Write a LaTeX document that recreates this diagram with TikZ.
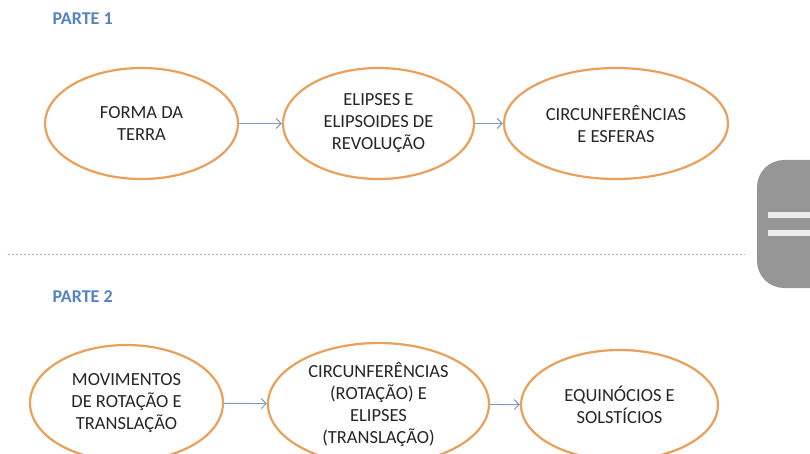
\documentclass[tikz,border=0pt]{standalone}
\usepackage{fontspec}
\setmainfont{Carlito}
\usepackage{xcolor}
\usetikzlibrary{arrows.meta,shapes.geometric}

\definecolor{parteblue}{RGB}{84,131,190}
\definecolor{ovalorange}{RGB}{232,160,90}
\definecolor{arrowblue}{RGB}{125,155,190}
\definecolor{pillgray}{RGB}{150,150,150}

\tikzset{
  oval/.style={ellipse, draw=ovalorange, line width=2.2pt, fill=white,
    minimum width=#1, minimum height=111pt, inner sep=0pt, align=center,
    font=\fontsize{18.5}{22}\selectfont, text=black!85},
  oval/.default=192pt,
  flow/.style={-{Straight Barb[length=5pt,width=10pt]}, arrowblue, line width=1pt},
  parte/.style={anchor=west, text=parteblue, font=\fontsize{18}{20}\selectfont\bfseries}
}

\begin{document}
\begin{tikzpicture}[x=1pt,y=-1pt]
            \useasboundingbox (0,0) rectangle (810,454);

            % parte 1
            \node[parte] (p1) at (49, 19) {PARTE 1};
            \node[oval=193pt] (forma) at (141.5, 123.5) {FORMA DA\\TERRA};
            \node[oval=191pt] (elipses) at (378.5, 123.5) {ELIPSES E\\ELIPSOIDES DE\\REVOLUÇÃO};
            \node[oval=224pt] (circ) at (616, 123.5) {CIRCUNFERÊNCIAS\\E ESFERAS};
            \draw[flow] (forma) -- (elipses);
            \draw[flow] (elipses) -- (circ);

            % separador
            \draw[arrowblue!70, line width=0.8pt, dash pattern=on 2pt off 2pt] (8, 254) -- (745, 254);

            % parte 2
            \node[parte] (p2) at (49, 297) {PARTE 2};
            \node[oval=193pt, minimum height=116pt] (movim) at (126.5, 403) {MOVIMENTOS\\DE ROTAÇÃO E\\TRANSLAÇÃO};
            \node[oval=221pt, minimum height=122pt] (rotac) at (378.5, 404) {CIRCUNFERÊNCIAS\\(ROTAÇÃO) E\\ELIPSES\\(TRANSLAÇÃO)};
            \node[oval=197pt, minimum height=110pt] (equin) at (619.5, 405) {EQUINÓCIOS E\\SOLSTÍCIOS};
            \draw[flow] (movim) -- (rotac);
            \draw[flow] (rotac) -- (equin);

            % barra lateral
            \fill[pillgray, rounded corners=27pt] (757, 160) rectangle (840, 288);
            \fill[white!92!black] (768, 212) rectangle (810, 218);
            \fill[white!92!black] (768, 230) rectangle (810, 236);
\end{tikzpicture}
\end{document}
